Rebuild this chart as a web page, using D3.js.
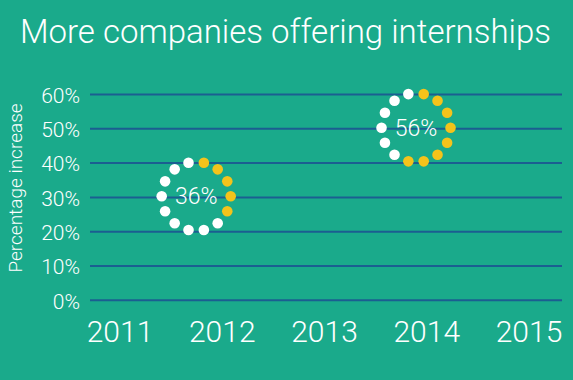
<!DOCTYPE html>
<html>
<head>
<meta charset="utf-8">
<script src="https://cdn.jsdelivr.net/npm/d3@7"></script>
<style>
html,body{margin:0;padding:0;background:#1aaa8b;}
svg{display:block;}
text{font-family:Roboto,"Open Sans",sans-serif;font-weight:300;fill:#fff;}
</style>
</head>
<body>
<svg id="chart" width="573" height="380"></svg>
<script>
// ---- data ----
const title = "More companies offering internships";
const yAxisLabel = "Percentage increase";
const years = [2011, 2012, 2013, 2014, 2015];
const yTicks = [0, 10, 20, 30, 40, 50, 60];
const ringYears = [2011.75, 2013.9];
const ringValues = [36, 56];
const ringLabels = ["36%", "56%"];
const dotsPerRing = 14;

// ---- layout ----
const W = 573, H = 380;
const gridLeft = 90, gridRight = 562;
const svg = d3.select("#chart");
svg.append("rect").attr("width", W).attr("height", H).attr("fill", "#1aaa8b");

const x = d3.scaleLinear().domain([2011, 2015]).range([119.5, 528.5]);
const y = d3.scaleLinear().domain([0, 60]).range([300.3, 94.5]);

svg.append("text").attr("x", W / 2 - 1).attr("y", 43)
  .attr("text-anchor", "middle").style("font-size", "33px").text(title);

// grid lines
svg.append("g").selectAll("line").data(yTicks).join("line")
  .attr("x1", gridLeft).attr("x2", gridRight)
  .attr("y1", d => y(d)).attr("y2", d => y(d))
  .attr("stroke", "#1b5e91").attr("stroke-width", 2);

// y axis
const yAxis = d3.axisLeft(y).tickValues(yTicks).tickFormat(d => d + "%").tickSize(0).tickPadding(0);
const gy = svg.append("g").attr("transform", `translate(80,1)`).call(yAxis);
gy.select(".domain").remove();
gy.selectAll("text").attr("fill", "#fff").style("font-size", "21px")
  .style("font-family", "Roboto, sans-serif").style("font-weight", 300);

svg.append("text").attr("transform", `translate(22,188) rotate(-90)`)
  .attr("text-anchor", "middle").style("font-size", "19px").text(yAxisLabel);

// x axis
const xAxis = d3.axisBottom(x).tickValues(years).tickFormat(d3.format("d")).tickSize(0).tickPadding(0);
const gx = svg.append("g").attr("transform", `translate(0,321)`).call(xAxis);
gx.select(".domain").remove();
gx.selectAll("text").attr("fill", "#fff").style("font-size", "30px")
  .style("font-family", "Roboto, sans-serif").style("font-weight", 300);

// rings
const R = 34.5, dotR = 5.3, ringOffset = 19.5;
const ring = svg.append("g").selectAll("g").data(ringValues).join("g")
  .attr("transform", (d, i) => `translate(${x(ringYears[i])},${y(d) + ringOffset})`);
ring.each(function (v) {
  const filled = Math.round(v / 100 * dotsPerRing);
  const dots = d3.range(dotsPerRing).map(k => {
    const a = (k + 0.5) * 2 * Math.PI / dotsPerRing;
    return { cx: R * Math.sin(a), cy: -R * Math.cos(a), on: k < filled };
  });
  d3.select(this).selectAll("circle").data(dots).join("circle")
    .attr("cx", d => d.cx).attr("cy", d => d.cy).attr("r", dotR)
    .attr("fill", d => d.on ? "#f4c31b" : "#ffffff");
});
ring.append("text").attr("text-anchor", "middle").attr("y", 8)
  .style("font-size", "23px").text((d, i) => ringLabels[i]);
</script>
</body>
</html>
